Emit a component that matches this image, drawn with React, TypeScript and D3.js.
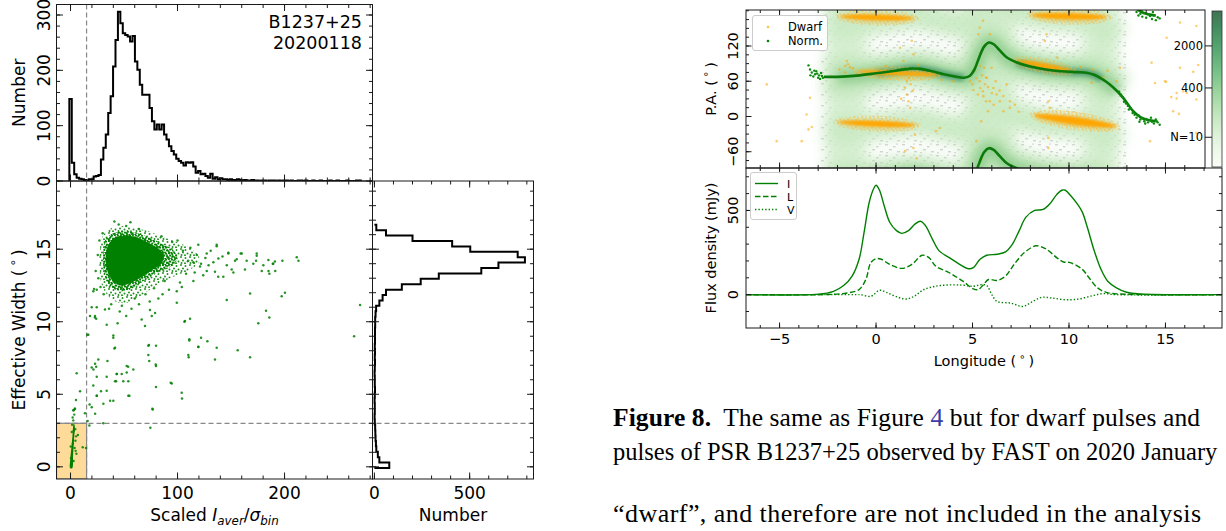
import React from "react";
import * as d3 from "d3";

// ================= LEFT FIGURE DATA =================
// Top histogram of scaled I_aver / sigma_bin
const topHistStart = -1.1;
const topHistBinWidth = 2.27;
const topHistCounts = [
  148, 33, 12, 6, 4, 3, 2, 1, 3, 3, 8, 9, 11, 39, 60, 84, 123, 153, 207, 255,
  306, 285, 267, 264, 261, 252, 262, 216, 201, 174, 156, 156, 156, 132, 108, 93, 102, 93, 102, 84,
  75, 63, 54, 48, 40, 36, 33, 28, 34, 33, 34, 26, 15, 18, 12, 13, 9, 6, 13, 4,
  7, 3, 5, 3, 3, 2, 3, 2, 2, 3, 2, 1, 2, 1, 1, 2, 1, 1, 0, 1,
  1, 0, 1, 1, 1, 0, 1, 0, 1, 1, 0, 1, 0, 0, 1, 1, 0, 1, 0, 0,
  1, 0, 0, 1, 0, 0, 0, 1, 0, 0, 1, 0, 0, 0, 1, 0, 0, 0, 1, 1,
];

// Right histogram of effective width
const rightHistStart = -0.08;
const rightHistBinWidth = 0.3725;
const rightHistCounts = [
  78, 26, 18, 10, 8, 6, 5, 4, 2, 1, 2, 2, 1, 2, 3, 2, 2, 1, 2, 3, 2, 3, 2, 3, 3, 3, 4,
  4, 6, 9, 26, 43, 61, 144, 243, 338, 561, 651, 790, 752, 503, 408, 200, 61, 10,
];

const snrCut = 15;
const widthCut = 3;

// normal-pulse cloud: solid core, dense fringe, sparse fringe (data units)
const scatterCoreOutline: [number, number][] = [
  [36, 15.4], [42, 15.8], [50, 15.95], [60, 15.85], [70, 15.55], [80, 15.15], [87, 14.6], [85, 14.0],
  [77, 13.6], [67, 13.1], [57, 12.7], [48, 12.5], [41, 12.7], [36, 13.2], [33, 14.0], [33.5, 14.9],
];
const scatterMidOutline: [number, number][] = [
  [33, 15.7], [40, 16.1], [50, 16.25], [60, 16.15], [72, 15.85], [84, 15.45], [95, 15.0],
  [100, 14.4], [94, 13.8], [82, 13.4], [70, 12.9], [60, 12.4], [50, 12.1], [42, 12.2],
  [35, 12.6], [31, 13.5], [30.5, 14.7],
];
const scatterHaloOutline: [number, number][] = [
  [30, 15.9], [38, 16.45], [48, 16.6], [58, 16.5], [72, 16.25], [88, 15.8], [104, 15.35],
  [116, 14.85], [121, 14.2], [112, 13.6], [96, 13.1], [80, 12.5], [66, 11.8], [53, 11.3],
  [42, 11.4], [34, 11.9], [29, 12.6], [27, 13.8], [27.5, 15.0],
];
const scatterPoints: [number, number][] = [
  [211.4, 14.45], [213, 14.2], [198, 14.2], [189.5, 14.0], [184.9, 14.25], [174, 14.55], [173.4, 14.2],
  [164.6, 14.2], [159, 14.7], [153.7, 14.2], [152.2, 13.4], [147.5, 14.7], [138.2, 14.35], [136.6, 15.2],
  [180.2, 13.9], [185, 13.5], [191.3, 13.5], [270.6, 11.15], [265, 9.0], [200.4, 12.0], [197.3, 11.75],
  [182.7, 10.75], [185.8, 10.3], [175.5, 9.9], [167.8, 11.95], [146, 11.5], [156.2, 8.04], [167.8, 7.55],
  [136.6, 8.2], [135, 7.4], [127.9, 8.65], [119.5, 8.25], [122, 8.9], [111, 8.7], [110.1, 7.7], [110.4, 7.55],
  [111.7, 10.2], [106.4, 10.0], [93.6, 5.8], [79.9, 5.5], [79.6, 7.05], [72.7, 7.7], [79.9, 8.35], [73.3, 8.4],
  [73.6, 7.3], [103.9, 5.1], [104.2, 4.7], [76.5, 4.0], [74.6, 2.7], [54, 4.9], [53.9, 6.9], [58.7, 6.7],
  [52.5, 6.5], [37, 4.55], [43.2, 6.4], [42.6, 5.9], [49.3, 5.9], [34.5, 7.3], [41, 8.15], [40, 9.05],
  [30.7, 3.0], [23, 3.65], [19.8, 4.1], [17.8, 4.3], [24.5, 4.9], [28.5, 5.2], [24.5, 6.2], [24, 6.9],
  [21.4, 6.7], [15.8, 9.1], [18.2, 10.4], [22.8, 10.3], [19.8, 11.0], [24.5, 11.0], [22, 12.25], [23.5, 13.5],
  [5.75, 6.45], [8.9, 5.2], [5.1, 4.6], [4.2, 4.0], [2.6, 3.9], [13.5, 3.7], [17.6, 2.85], [16, 3.15],
  [21.3, 12.1], [24.5, 12.2], [22.9, 10.4], [24, 10.2], [32.2, 10.85], [33.8, 9.8], [40, 8.9], [41.6, 8.2],
  [16.6, 9.1], [22.9, 7.1], [26, 7.4], [19.8, 6.85], [21.3, 5.6], [24.5, 4.9], [30.7, 4.35], [33.8, 5.25],
  [33.8, 6.2], [40, 4.55], [43.2, 6.4], [47.8, 6.4], [52.5, 6.95], [54, 5.9], [41.6, 5.9], [55, 4.9],
  [66.5, 10.15], [69.6, 9.7], [74.3, 10.8], [79, 10.6], [75.9, 10.4], [72.7, 8.35], [79.9, 6.95],
  [94.6, 5.75], [76.8, 3.95], [107, 10.05], [111, 8.8], [119.4, 8.27], [138, 13.1], [147.5, 14.75],
  [155.3, 14.3], [160, 14.7], [163, 13.6], [170.8, 14.0], [174, 14.7], [178.7, 13.5], [185.8, 13.3],
  [189, 14.0], [191, 14.15], [150.6, 13.6], [142.8, 13.1], [135, 13.45], [127.3, 13.5], [121, 13.8],
  [114.8, 14.1], [133.5, 14.1], [146, 13.9], [119.4, 15.3], [127.3, 14.7], [136.6, 15.3], [114.8, 12.8],
  [102.3, 12.7], [99.3, 12.1], [99.3, 11.3], [82.1, 11.6], [126, 14.4], [131, 14.9], [142, 14.5],
  [118, 14.6], [124, 13.2], [108, 13.3], [105, 14.9], [112, 15.1], [122, 14.0], [129, 13.9],
  [60, 11.6], [70, 11.9], [48, 11.1], [38, 11.2], [31, 11.9], [28, 12.4], [27, 15.6], [30, 16.1],
  [45, 16.7], [52, 16.6], [64, 16.4], [85, 15.9], [95, 15.5], [100, 15.6], [78, 12.3], [88, 12.8],
  [57, 10.9], [46, 10.7], [36, 10.9], [64, 11.2], [52, 10.4], [44, 9.9], [26, 13.0], [25.5, 14.6],
  [41, 16.9], [56, 16.85], [110, 14.2], [116, 13.4], [104, 12.4], [92, 12.2], [86, 11.9], [74, 11.4],
];
// low-S/N (dwarf) pulses inside the shaded corner
const dwarfStreakOutline: [number, number][] = [
  [-0.3, -0.1], [1.6, -0.1], [2.4, 0.8], [3.3, 1.9], [4.0, 2.8], [3.0, 3.0], [1.8, 2.1], [0.5, 1.1], [-0.3, 0.5],
];
const dwarfStreakPoints: [number, number][] = [
  [2.0, 3.4], [3.5, 3.6], [4.5, 2.6], [5.2, 2.1], [6.9, 2.2], [4.8, 1.1], [5.5, 0.9], [11.4, 1.35],
  [14.5, 1.3], [3.0, 3.9], [4.0, 4.0], [2.6, 3.2], [1.2, 2.4], [0.2, 1.4], [3.8, 1.3], [2.9, 0.4],
  [1.0, 0.2], [0.4, 0.6], [2.2, 1.6], [3.1, 2.5], [4.6, 1.8], [1.5, 2.9],
];

const scatterXMajor = [0, 100, 200];
const topYMajor = [0, 100, 200, 300];
const scatterYMajor = [0, 5, 10, 15];
const rightHistXMajor = [0, 500];

// ================= RIGHT FIGURE DATA =================
// PA curve of normal pulses [longitude deg, PA deg]
const paCurve: [number, number][] = [
  [-2.7, 67.5], [-2.0, 67.5], [-1.0, 69.5], [0.0, 73.5], [1.0, 78], [1.8, 81.5], [2.3, 81], [2.9, 77],
  [3.5, 72], [4.1, 68], [4.55, 66], [4.85, 69], [5.1, 80], [5.35, 101], [5.6, 119], [5.85, 126],
  [6.1, 123], [6.4, 113], [6.8, 100], [7.3, 92], [8.0, 85], [8.8, 80], [9.6, 77], [10.4, 75.5],
  [10.9, 74.5], [11.3, 71], [11.7, 64], [12.1, 55], [12.5, 43], [12.9, 28], [13.3, 10], [13.7, -1],
  [14.1, -6], [14.5, -8],
];
const normScatter: [number, number][] = [
  [-3.5, 87], [-3.42, 80], [-3.33, 75], [-3.16, 72], [-3.1, 77], [-2.95, 70], [-2.85, 74], [-3.25, 68],
  [-3.0, 66], [-2.8, 69], [-3.4, 70], [-2.9, 64], [-3.2, 78], [-3.05, 73], [-2.75, 66],
  [12.6, 42], [12.7, 37], [12.8, 33], [12.85, 25], [12.95, 22], [13.05, 18], [13.1, 12], [13.2, 14],
  [13.3, 6], [13.4, 3], [13.5, -2], [13.6, 2], [13.7, -5], [13.8, -3], [13.9, -8], [14.0, -4],
  [14.1, -10], [14.2, -6], [14.3, -9], [14.4, -12], [14.5, -5], [14.6, -10], [14.7, -14], [13.95, -12],
  [14.25, -2], [14.55, -8], [13.65, -9],
  [13.5, 178], [13.6, 172], [13.7, 175], [13.8, 170], [13.9, 176], [14.0, 168], [14.1, 174], [14.2, 171],
  [14.3, 166], [14.4, 172], [14.5, 164], [14.6, 169], [14.7, 167], [13.75, 180], [14.35, 178],
];
// dwarf-pulse PA clusters [lon1, pa1, lon2, pa2, thickness deg]
const dwarfClusters: [number, number, number, number, number][] = [
  [-1.7, 170, 1.8, 167, 11],
  [-0.8, 76, 3.1, 71, 8],
  [-1.8, -10, 1.9, -15, 11],
  [8.2, 172, 11.8, 169, 12],
  [7.4, 94, 10.0, 78, 9],
  [8.4, 1, 12.2, -16, 15],
];
const dwarfScatter: [number, number][] = [
  [-5.66, 54.6], [-3.6, 3.3], [-3.5, -22], [-3.85, -42], [-5.15, -42], [-3.33, -18], [-3.42, 31.7],
  [-1.52, 94.5], [-1.45, 89], [-1.35, 84], [-1.6, 86], [-1.2, 82], [-1.9, 80], [-1.0, 73], [-1.6, 75],
  [1.25, 117], [1.42, 94.5], [1.5, 49], [1.6, 37.5], [1.68, 26], [1.77, 14.7], [1.94, 106], [1.85, 129],
  [2.02, -31], [1.94, -53.6], [2.1, -71], [1.5, -59], [3.3, -19.5], [3.1, -25], [1.6, 60], [1.8, 55],
  [1.7, 65], [1.9, 44], [1.3, 30], [2.2, 88], [0.5, 86], [3.4, 62], [4.0, 60],
  [5.37, 60], [5.54, 43], [5.7, 26], [5.28, 37.5], [5.7, 66], [5.6, 83], [5.8, 9], [5.45, -8], [5.2, -42],
  [5.45, -73], [5.3, 140], [5.37, 151], [5.54, 163], [4.87, 60], [5.39, 48.6], [5.73, 66], [6.08, 48.6],
  [5.9, 26], [6.42, 26], [6.6, 9], [6.94, 14.7], [6.25, 37.5], [6.77, 54.6], [5.56, 34.6], [5.13, 77.4],
  [5.39, 86], [5.9, 140], [5.99, 83], [6.94, 26], [5.0, 55], [6.2, 60], [5.8, 50], [6.0, 40],
  [5.5, 70], [5.2, 65], [6.4, 44], [6.6, 35], [5.05, 45], [5.65, 55], [6.1, 20], [7.2, 20], [7.4, 8],
  [8.84, 140], [8.75, 128.6], [8.93, 26], [9.0, 14.7], [8.93, -36.6], [8.93, -53.6], [9.36, 83],
  [11.17, 57.6], [11.78, 66], [12.47, 60], [12.64, 83], [14.28, 91.7], [14.97, 60], [15.58, 40],
  [15.92, 43], [16.4, 43], [15.4, 9], [15.75, 160], [15.06, 134], [14.2, -42], [16.6, 154], [16.7, 87.7],
  [15.75, 83], [16.44, 76], [15.03, 59], [15.3, 33], [15.58, 30.7], [16.1, 40], [16.6, 29], [15.7, 4.4],
  [16.6, -28], [14.46, 57], [10.6, 84], [11.2, 80], [12.0, 78], [9.4, 100],
];
// broad columns of low-density emission in the PA histogram
const hazeColumns: [number, number][] = [[-2.6, -0.5], [4.8, 7.2], [10.7, 12.6]];
const hazeCoreRanges: [number, number][] = [[-0.8, 4.7], [6.9, 11.8]];
const colorbarTicks = [10, 400, 2000];
const colorbarTickLabels = ["N=10", "400", "2000"];

// mean profiles [longitude, mJy]
const fluxLonI = [-6.74, -3.0, -2.2, -1.68, -1.24, -0.88, -0.62, -0.35, -0.12, 0, 0.18, 0.44, 0.71, 1.06, 1.33, 1.68, 2.03, 2.3, 2.56, 2.92, 3.27, 3.8, 4.33, 4.77, 5.04, 5.39, 5.74, 6.27, 6.71, 7.07, 7.42, 7.77, 8.22, 8.66, 9.01, 9.36, 9.63, 9.81, 10.07, 10.42, 10.69, 10.95, 11.31, 11.66, 12.01, 12.46, 12.99, 13.7, 17.93];
const fluxI = [0, 3, 20, 54, 110, 210, 370, 550, 630, 650, 620, 520, 430, 380, 364, 380, 420, 436, 410, 330, 260, 220, 180, 154, 160, 210, 234, 240, 254, 300, 380, 460, 500, 506, 540, 594, 620, 620, 590, 540, 490, 400, 260, 150, 80, 40, 14, 4, 0];
const fluxLonL = [-6.74, -2.5, -1.5, -0.88, -0.53, -0.27, 0, 0.27, 0.71, 1.33, 1.86, 2.39, 2.74, 3.09, 3.8, 4.5, 5.04, 5.3, 5.57, 5.83, 6.27, 6.71, 7.16, 7.69, 8.3, 8.83, 9.36, 9.72, 10.07, 10.69, 11.04, 11.48, 11.93, 12.63, 17.93];
const fluxL = [0, 1, 10, 30, 90, 190, 214, 210, 180, 156, 180, 234, 220, 170, 130, 80, 34, 30, 60, 90, 84, 110, 180, 250, 290, 270, 220, 194, 190, 150, 100, 40, 14, 4, 0];
const fluxLonV = [-6.74, -1.0, -0.8, -0.27, 0.18, 0.53, 1.15, 1.59, 2.03, 2.47, 3.09, 3.8, 4.5, 5.04, 5.48, 5.74, 6.0, 6.27, 6.98, 7.6, 8.04, 8.57, 9.1, 9.81, 10.51, 11.22, 11.75, 12.46, 17.93];
const fluxV = [0, 0, 0, -10, 26, 14, -16, -26, -6, 30, 50, 58, 56, 50, 60, 54, 0, -40, -50, -70, -46, -16, -20, -30, -26, -6, 6, 0, 0];

const lonMajor = [-5, 0, 5, 10, 15];
const paMajor = [-60, 0, 60, 120];
const fluxMajor = [0, 500];

// ================= HELPERS =================
const rng = (a: number, b: number, s: number) => {
  const out: number[] = [];
  for (let k = Math.ceil(a / s - 1e-9); k * s <= b + 1e-9; k++) out.push(+(k * s).toFixed(6));
  return out;
};

type TP = { scale: (v: number) => number; values: number[]; side: string; at: number; len: number };
const Ticks = ({ scale, values, side, at, len }: TP) => (
  <g stroke="#1a1a1a" strokeWidth={1}>
    {values.map((v, i) => {
      const p = scale(v);
      if (side === "bottom") return <line key={i} x1={p} x2={p} y1={at} y2={at - len} />;
      if (side === "top") return <line key={i} x1={p} x2={p} y1={at} y2={at + len} />;
      if (side === "left") return <line key={i} y1={p} y2={p} x1={at} x2={at + len} />;
      return <line key={i} y1={p} y2={p} x1={at} x2={at - len} />;
    })}
  </g>
);

const FONT = "'DejaVu Sans', sans-serif";
const fmt = (v: number) => (v < 0 ? "\u2212" + Math.abs(v) : String(v));

export default function App() {
  // ---------- left scales ----------
  const LX0 = 56.5, LX1 = 372.5, TY0 = 4.5, TY1 = 181, SY1 = 479, RX1 = 533.5;
  const xS = d3.scaleLinear().domain([-13.1, 282.2]).range([LX0, LX1]);
  const yTop = d3.scaleLinear().domain([0, 319]).range([TY1, TY0]);
  const yS = d3.scaleLinear().domain([-0.84, 19.7]).range([SY1, TY1]);
  const xR = d3.scaleLinear().domain([-10, 835]).range([LX1, RX1]);

  const topPts: [number, number][] = [];
  topHistCounts.forEach((c, i) => {
    const e0 = topHistStart + i * topHistBinWidth;
    const e1 = e0 + topHistBinWidth;
    if (i === 0) topPts.push([xS(e0), yTop(0)]);
    topPts.push([xS(e0), yTop(c)], [xS(e1), yTop(c)]);
  });
  topPts.push([xS(topHistStart + topHistCounts.length * topHistBinWidth), yTop(0)]);
  const topPath = d3.line()(topPts) || "";

  const rPts: [number, number][] = [];
  rightHistCounts.forEach((c, i) => {
    const e0 = rightHistStart + i * rightHistBinWidth;
    const e1 = e0 + rightHistBinWidth;
    if (i === 0) rPts.push([xR(0), yS(e0)]);
    rPts.push([xR(c), yS(e0)], [xR(c), yS(e1)]);
  });
  rPts.push([xR(0), yS(rightHistStart + rightHistCounts.length * rightHistBinWidth)]);
  const rightPath = d3.line()(rPts) || "";

  const closedLine = d3
    .line<[number, number]>()
    .x((d) => xS(d[0]))
    .y((d) => yS(d[1]))
    .curve(d3.curveCatmullRomClosed);

  // ---------- right scales ----------
  const RX0 = 746, PX1 = 1205, FX1 = 1222, PY0 = 10, PY1 = 168, FY1 = 328;
  const lonS = d3.scaleLinear().domain([-6.74, 17.93]).range([RX0, FX1]);
  const paS = d3.scaleLinear().domain([-87.7, 181.3]).range([PY1, PY0]);
  const fluxS = d3.scaleLinear().domain([-198, 752]).range([FY1, PY1]);
  const cbS = d3.scalePow().exponent(0.265).domain([0, 5200]).range([167, 11]);

  const paLine = (off: number, lo: number, hi: number) =>
    d3
      .line<[number, number]>()
      .x((d) => lonS(d[0]))
      .y((d) => paS(d[1] + off))
      .curve(d3.curveCatmullRom)(paCurve.filter((d) => d[0] >= lo && d[0] <= hi)) || "";

  const profLine = (lons: number[], vals: number[]) =>
    d3
      .line<number>()
      .x((_, i) => lonS(lons[i]))
      .y((d) => fluxS(d))
      .curve(d3.curveCatmullRom)(vals) || "";

  const pxPerDeg = (PY1 - PY0) / (181.3 + 87.7);
  const GREEN = "#008000";

  const degLabel = (txt: string) => (
    <>
      {txt}
      <tspan dx={3} dy={-6} fontSize="0.7em">{"\u2218"}</tspan>
      <tspan dx={3} dy={6}>)</tspan>
    </>
  );

  const clusterEllipse = (c: [number, number, number, number, number]) => {
    const [l1, p1, l2, p2, t] = c;
    const x1 = lonS(l1), y1 = paS(p1), x2 = lonS(l2), y2 = paS(p2);
    const len = Math.hypot(x2 - x1, y2 - y1);
    const ang = (Math.atan2(y2 - y1, x2 - x1) * 180) / Math.PI;
    return { cx: (x1 + x2) / 2, cy: (y1 + y2) / 2, rx: len / 2 + (t * pxPerDeg) / 2, ry: (t * pxPerDeg) / 2, ang };
  };

  return (
    <svg width={1226} height={531} style={{ position: "absolute", left: 0, top: 0, background: "#fff" }} fontFamily={FONT}>
      <defs>
        <clipPath id="clipTop"><rect x={LX0} y={TY0} width={LX1 - LX0} height={TY1 - TY0} /></clipPath>
        <clipPath id="clipSc"><rect x={LX0} y={TY1} width={LX1 - LX0} height={SY1 - TY1} /></clipPath>
        <clipPath id="clipR"><rect x={LX1} y={TY1} width={RX1 - LX1} height={SY1 - TY1} /></clipPath>
        <clipPath id="clipPA"><rect x={RX0} y={PY0} width={PX1 - RX0} height={PY1 - PY0} /></clipPath>
        <clipPath id="clipFlux"><rect x={RX0} y={PY1} width={FX1 - RX0} height={FY1 - PY1} /></clipPath>
        <pattern id="greenSpeck" width={9} height={8} patternUnits="userSpaceOnUse">
          {[[1, 1], [5.5, 2], [3, 4.5], [7.5, 5.5], [1.5, 7], [5, 7.2]].map(([x, y], i) => (
            <circle key={i} cx={x} cy={y} r={0.95} fill={GREEN} />
          ))}
        </pattern>
        <pattern id="greenDense" width={6} height={6} patternUnits="userSpaceOnUse">
          {[[1, 1], [4, 1.8], [2.2, 3.6], [5, 4.6], [0.6, 5.3], [3.3, 0.2]].map(([x, y], i) => (
            <circle key={i} cx={x} cy={y} r={1.05} fill={GREEN} />
          ))}
        </pattern>
        <pattern id="graySpeck" width={17} height={11} patternUnits="userSpaceOnUse">
          <rect x={1} y={1} width={3} height={1.4} fill="#d2d2d2" />
          <rect x={9} y={3} width={2.5} height={1.4} fill="#d2d2d2" />
          <rect x={5} y={6} width={3} height={1.4} fill="#d2d2d2" />
          <rect x={13} y={8} width={3} height={1.4} fill="#d2d2d2" />
          <rect x={2} y={9} width={2} height={1.3} fill="#d8d8d8" />
          <rect x={12} y={0.5} width={2} height={1.2} fill="#d8d8d8" />
        </pattern>
        <pattern id="orangeSpeck" width={8} height={7} patternUnits="userSpaceOnUse">
          {[[1, 1], [5, 1.8], [3, 4], [6.8, 5], [0.8, 6], [4.2, 6.4]].map(([x, y], i) => (
            <circle key={i} cx={x} cy={y} r={0.9} fill="#ffb733" />
          ))}
        </pattern>
        <filter id="blurBig" x="-20%" y="-20%" width="140%" height="140%"><feGaussianBlur stdDeviation={7} /></filter>
        <filter id="blurMid" x="-20%" y="-20%" width="140%" height="140%"><feGaussianBlur stdDeviation={4} /></filter>
        <filter id="blurSmall" x="-20%" y="-20%" width="140%" height="140%"><feGaussianBlur stdDeviation={2} /></filter>
        <filter id="blurTiny" x="-30%" y="-60%" width="160%" height="220%"><feGaussianBlur stdDeviation={1.6} /></filter>
        <linearGradient id="cbGrad" x1="0" y1="1" x2="0" y2="0">
          {d3.range(0, 1.0001, 0.1).map((t) => (
            <stop key={t} offset={t} stopColor={d3.interpolateGreens(t)} stopOpacity={0.75} />
          ))}
        </linearGradient>
      </defs>
      <rect x={0} y={0} width={1226} height={531} fill="#fff" />

      {/* ================= LEFT: TOP HISTOGRAM ================= */}
      <g clipPath="url(#clipTop)">
        <path d={topPath} fill="none" stroke="#000" strokeWidth={2} strokeLinejoin="miter" />
      </g>
      <line x1={xS(snrCut)} x2={xS(snrCut)} y1={TY0} y2={SY1} stroke="#888" strokeWidth={1.2} strokeDasharray="5,3" />
      <rect x={LX0} y={TY0} width={LX1 - LX0} height={TY1 - TY0} fill="none" stroke="#1a1a1a" strokeWidth={1} />
      <Ticks scale={xS} values={rng(-13, 282, 20)} side="bottom" at={TY1} len={3.5} />
      <Ticks scale={xS} values={scatterXMajor} side="bottom" at={TY1} len={6.5} />
      <Ticks scale={xS} values={rng(-13, 282, 20)} side="top" at={TY0} len={3.5} />
      <Ticks scale={xS} values={scatterXMajor} side="top" at={TY0} len={6.5} />
      <Ticks scale={yTop} values={rng(0, 319, 20)} side="left" at={LX0} len={3.5} />
      <Ticks scale={yTop} values={topYMajor} side="left" at={LX0} len={6.5} />
      <Ticks scale={yTop} values={rng(0, 319, 20)} side="right" at={LX1} len={3.5} />
      <Ticks scale={yTop} values={topYMajor} side="right" at={LX1} len={6.5} />
      {topYMajor.map((v) => (
        <text key={v} transform={`translate(43.5,${yTop(v)}) rotate(-90)`} textAnchor="middle" dominantBaseline="central" fontSize={17}>{v}</text>
      ))}
      <text transform={`translate(19,${(TY0 + TY1) / 2}) rotate(-90)`} textAnchor="middle" dominantBaseline="central" fontSize={17}>Number</text>
      <text x={362} y={28} textAnchor="end" fontSize={17.5}>B1237+25</text>
      <text x={362} y={49} textAnchor="end" fontSize={17.5}>20200118</text>

      {/* ================= LEFT: SCATTER ================= */}
      <g clipPath="url(#clipSc)">
        <rect x={LX0} y={yS(widthCut)} width={xS(snrCut) - LX0} height={SY1 - yS(widthCut)} fill="#ffdb99" stroke="#888" strokeWidth={1.2} />
        <path d={closedLine(scatterHaloOutline) || ""} fill="url(#greenSpeck)" opacity={0.9} />
        <path d={closedLine(scatterMidOutline) || ""} fill="url(#greenDense)" />
        <path d={closedLine(scatterCoreOutline) || ""} fill={GREEN} />
        {scatterPoints.map((p, i) => (
          <circle key={i} cx={xS(p[0])} cy={yS(p[1])} r={1.25} fill={GREEN} opacity={0.85} />
        ))}
        <path d={closedLine(dwarfStreakOutline) || ""} fill={GREEN} />
        {dwarfStreakPoints.map((p, i) => (
          <circle key={i} cx={xS(p[0])} cy={yS(p[1])} r={1.2} fill={GREEN} opacity={0.85} />
        ))}
      </g>
      <line x1={LX0} x2={RX1} y1={yS(widthCut)} y2={yS(widthCut)} stroke="#888" strokeWidth={1.2} strokeDasharray="5,3" />
      <rect x={LX0} y={TY1} width={LX1 - LX0} height={SY1 - TY1} fill="none" stroke="#1a1a1a" strokeWidth={1} />
      <Ticks scale={xS} values={rng(-13, 282, 20)} side="bottom" at={SY1} len={3.5} />
      <Ticks scale={xS} values={scatterXMajor} side="bottom" at={SY1} len={6.5} />
      <Ticks scale={xS} values={rng(-13, 282, 20)} side="top" at={TY1} len={3.5} />
      <Ticks scale={xS} values={scatterXMajor} side="top" at={TY1} len={6.5} />
      <Ticks scale={yS} values={rng(0, 19.7, 1)} side="left" at={LX0} len={3.5} />
      <Ticks scale={yS} values={scatterYMajor} side="left" at={LX0} len={6.5} />
      <Ticks scale={yS} values={rng(0, 19.7, 1)} side="right" at={LX1} len={3.5} />
      <Ticks scale={yS} values={scatterYMajor} side="right" at={LX1} len={6.5} />
      {scatterYMajor.map((v) => (
        <text key={v} transform={`translate(43.5,${yS(v)}) rotate(-90)`} textAnchor="middle" dominantBaseline="central" fontSize={17}>{v}</text>
      ))}
      {scatterXMajor.map((v) => (
        <text key={v} x={xS(v)} y={498.5} textAnchor="middle" fontSize={17}>{v}</text>
      ))}
      <text transform={`translate(19,${(TY1 + SY1) / 2}) rotate(-90)`} textAnchor="middle" dominantBaseline="central" fontSize={17}>
        {degLabel("Effective Width (")}
      </text>
      <text x={(LX0 + LX1) / 2} y={521} textAnchor="middle" fontSize={17}>
        Scaled <tspan fontStyle="italic">I</tspan>
        <tspan fontStyle="italic" fontSize="0.7em" dy={4}>aver</tspan>
        <tspan dy={-4}>/</tspan>
        <tspan fontStyle="italic">{"\u03c3"}</tspan>
        <tspan fontStyle="italic" fontSize="0.7em" dy={4}>bin</tspan>
      </text>

      {/* ================= LEFT: RIGHT HISTOGRAM ================= */}
      <g clipPath="url(#clipR)">
        <path d={rightPath} fill="none" stroke="#000" strokeWidth={2} />
      </g>
      <rect x={LX1} y={TY1} width={RX1 - LX1} height={SY1 - TY1} fill="none" stroke="#1a1a1a" strokeWidth={1} />
      <Ticks scale={xR} values={rng(0, 835, 100)} side="bottom" at={SY1} len={3.5} />
      <Ticks scale={xR} values={rightHistXMajor} side="bottom" at={SY1} len={6.5} />
      <Ticks scale={xR} values={rng(0, 835, 100)} side="top" at={TY1} len={3.5} />
      <Ticks scale={xR} values={rightHistXMajor} side="top" at={TY1} len={6.5} />
      <Ticks scale={yS} values={rng(0, 19.7, 1)} side="left" at={LX1} len={3.5} />
      <Ticks scale={yS} values={scatterYMajor} side="left" at={LX1} len={6.5} />
      <Ticks scale={yS} values={rng(0, 19.7, 1)} side="right" at={RX1} len={3.5} />
      <Ticks scale={yS} values={scatterYMajor} side="right" at={RX1} len={6.5} />
      {rightHistXMajor.map((v) => (
        <text key={v} x={xR(v)} y={498.5} textAnchor="middle" fontSize={17}>{v}</text>
      ))}
      <text x={(LX1 + RX1) / 2} y={521} textAnchor="middle" fontSize={17}>Number</text>

      {/* ================= RIGHT: PA PANEL ================= */}
      <g clipPath="url(#clipPA)">
        <rect x={lonS(-2.9)} y={PY0} width={lonS(13.0) - lonS(-2.9)} height={PY1 - PY0} fill="url(#graySpeck)" />
        <g filter="url(#blurBig)" opacity={0.92}>
          {hazeColumns.map(([a, b], i) => (
            <rect key={i} x={lonS(a)} y={PY0 - 20} width={lonS(b) - lonS(a)} height={PY1 - PY0 + 40} fill="#d3eecd" />
          ))}
          {[0, -180, 180].map((o) => (
            <path key={o} d={paLine(o, -2.7, 12.7)} fill="none" stroke="#bde4b6" strokeWidth={36} />
          ))}
          {[-90, 90].map((o) => (
            <path key={o} d={paLine(o, -2.7, 12.7)} fill="none" stroke="#c8e9c1" strokeWidth={28} />
          ))}
        </g>
        <g filter="url(#blurMid)">
          {[0, -180, 180].map((o) => (
            <path key={o} d={paLine(o, -2.5, 12.6)} fill="none" stroke="#90cd8f" strokeWidth={14} opacity={0.9} />
          ))}
        </g>
        <g filter="url(#blurSmall)">
          {hazeCoreRanges.map(([a, b], i) => (
            <path key={i} d={paLine(0, a, b)} fill="none" stroke="#3f8f6a" strokeWidth={7} opacity={0.75} />
          ))}
        </g>
        {/* dwarf clusters */}
        {dwarfClusters.map((c, i) => {
          const e = clusterEllipse(c);
          return (
            <g key={i} transform={`translate(${e.cx},${e.cy}) rotate(${e.ang})`}>
              <ellipse rx={e.rx + 5} ry={e.ry + 5} fill="url(#orangeSpeck)" opacity={0.75} />
              <ellipse rx={e.rx} ry={e.ry} fill="#ffa500" filter="url(#blurTiny)" />
            </g>
          );
        })}
        {dwarfScatter.map((p, i) => (
          <circle key={i} cx={lonS(p[0])} cy={paS(p[1])} r={1.3} fill="#ffa500" opacity={0.55} />
        ))}
        {/* normal PA curve */}
        {[0, -180, 180].map((o) => (
          <path key={o} d={paLine(o, -2.7, 14.5)} fill="none" stroke="#0b7a0b" strokeWidth={2.6} />
        ))}
        {normScatter.map((p, i) => (
          <circle key={i} cx={lonS(p[0])} cy={paS(p[1])} r={1.2} fill="#0b8a0b" />
        ))}
      </g>
      <rect x={RX0} y={PY0} width={PX1 - RX0} height={PY1 - PY0} fill="none" stroke="#1a1a1a" strokeWidth={1} />
      <Ticks scale={lonS} values={rng(-6, 16.9, 1)} side="bottom" at={PY1} len={3} />
      <Ticks scale={lonS} values={lonMajor} side="bottom" at={PY1} len={5.5} />
      <Ticks scale={lonS} values={rng(-6, 16.9, 1)} side="top" at={PY0} len={3} />
      <Ticks scale={lonS} values={lonMajor} side="top" at={PY0} len={5.5} />
      <Ticks scale={paS} values={rng(-75, 180, 15)} side="left" at={RX0} len={3} />
      <Ticks scale={paS} values={paMajor} side="left" at={RX0} len={5.5} />
      {paMajor.map((v) => (
        <text key={v} transform={`translate(733,${paS(v)}) rotate(-90)`} textAnchor="middle" dominantBaseline="central" fontSize={14.5}>{fmt(v)}</text>
      ))}
      <text transform={`translate(711,${(PY0 + PY1) / 2}) rotate(-90)`} textAnchor="middle" dominantBaseline="central" fontSize={14.5}>
        {degLabel("P.A. (")}
      </text>
      {/* legend */}
      <rect x={752.5} y={15.5} width={75} height={35} rx={2.5} fill="#fff" fillOpacity={0.85} stroke="#cccccc" strokeWidth={1} />
      <circle cx={768} cy={27} r={1.3} fill="#ffa500" opacity={0.7} />
      <circle cx={768} cy={41} r={1.3} fill={GREEN} />
      <text x={788} y={31} fontSize={11.5}>Dwarf</text>
      <text x={788} y={45} fontSize={11.5}>Norm.</text>
      {/* colorbar */}
      <rect x={1212} y={11} width={10} height={156} fill="url(#cbGrad)" stroke="#333" strokeWidth={0.8} />
      {colorbarTicks.map((v, i) => (
        <g key={v}>
          <line x1={1205} x2={1212} y1={cbS(v)} y2={cbS(v)} stroke="#1a1a1a" strokeWidth={1} />
          <text x={1203} y={cbS(v)} textAnchor="end" dominantBaseline="central" fontSize={11.5}>{colorbarTickLabels[i]}</text>
        </g>
      ))}

      {/* ================= RIGHT: FLUX PANEL ================= */}
      <g clipPath="url(#clipFlux)" fill="none" stroke={GREEN} strokeWidth={1.4}>
        <path d={profLine(fluxLonI, fluxI)} />
        <path d={profLine(fluxLonL, fluxL)} strokeDasharray="5.5,2.5" />
        <path d={profLine(fluxLonV, fluxV)} strokeDasharray="1.4,2" />
      </g>
      <rect x={RX0} y={PY1} width={FX1 - RX0} height={FY1 - PY1} fill="none" stroke="#1a1a1a" strokeWidth={1} />
      <Ticks scale={lonS} values={rng(-6, 17.9, 1)} side="bottom" at={FY1} len={3} />
      <Ticks scale={lonS} values={lonMajor} side="bottom" at={FY1} len={5.5} />
      <Ticks scale={lonS} values={rng(-6, 17.9, 1)} side="top" at={PY1} len={3} />
      <Ticks scale={lonS} values={lonMajor} side="top" at={PY1} len={5.5} />
      <Ticks scale={fluxS} values={rng(-100, 752, 100)} side="left" at={RX0} len={3} />
      <Ticks scale={fluxS} values={fluxMajor} side="left" at={RX0} len={5.5} />
      <Ticks scale={fluxS} values={rng(-100, 752, 100)} side="right" at={FX1} len={3} />
      <Ticks scale={fluxS} values={fluxMajor} side="right" at={FX1} len={5.5} />
      {fluxMajor.map((v) => (
        <text key={v} transform={`translate(733,${fluxS(v)}) rotate(-90)`} textAnchor="middle" dominantBaseline="central" fontSize={14.5}>{v}</text>
      ))}
      {lonMajor.map((v) => (
        <text key={v} x={lonS(v)} y={344} textAnchor="middle" fontSize={14.5}>{fmt(v)}</text>
      ))}
      <text transform={`translate(711,${(PY1 + FY1) / 2}) rotate(-90)`} textAnchor="middle" dominantBaseline="central" fontSize={14.5}>Flux density (mJy)</text>
      <text x={(RX0 + FX1) / 2} y={366} textAnchor="middle" fontSize={14.5}>
        {degLabel("Longitude (")}
      </text>
      {/* legend */}
      <rect x={750.5} y={172.5} width={46} height={47} rx={2.5} fill="#fff" fillOpacity={0.85} stroke="#cccccc" strokeWidth={1} />
      <g stroke={GREEN} strokeWidth={1.4}>
        <line x1={755} x2={778} y1={183.5} y2={183.5} />
        <line x1={755} x2={778} y1={196.5} y2={196.5} strokeDasharray="5.5,2.5" />
        <line x1={755} x2={778} y1={209.5} y2={209.5} strokeDasharray="1.4,2" />
      </g>
      <text x={787} y={187.5} fontSize={11}>I</text>
      <text x={787} y={200.5} fontSize={11}>L</text>
      <text x={787} y={213.5} fontSize={11}>V</text>

      {/* ================= CAPTION (page text, fitted inside the frame) ================= */}
      <g fontFamily="'Liberation Serif', 'Times New Roman', serif" fontSize={25.5}>
        <text x={613} y={426} textLength={587} lengthAdjust="spacing">
          <tspan fontWeight="bold">Figure 8.</tspan>
          <tspan dx={12}>The same as Figure </tspan>
          <tspan fill="#3c3ca8">4</tspan>
          <tspan> but for dwarf pulses and</tspan>
        </text>
        <text x={613} y={460} fontSize={24.5}>pulses of PSR B1237+25 observed by FAST on 2020 January</text>
        <text x={613} y={522} fontSize={26} textLength={588} lengthAdjust="spacing">{"\u201cdwarf\u201d, and therefore are not included in the analysis"}</text>
      </g>
    </svg>
  );
}
